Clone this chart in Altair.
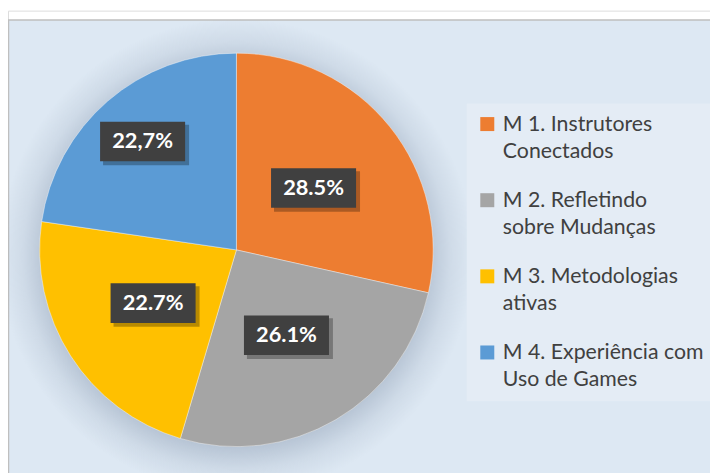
import altair as alt
import pandas as pd

categories = [
    "M 1. Instrutores Conectados",
    "M 2. Refletindo sobre Mudanças",
    "M 3. Metodologias ativas",
    "M 4. Experiência com Uso de Games",
]
values = [28.5, 26.1, 22.7, 22.7]
value_labels = ["28.5%", "26.1%", "22.7%", "22,7%"]
legend_lines = [
    ["M 1. Instrutores", "Conectados"],
    ["M 2. Refletindo", "sobre Mudanças"],
    ["M 3. Metodologias", "ativas"],
    ["M 4. Experiência com", "Uso de Games"],
]
colors = ["#ED7D31", "#A5A5A5", "#FFC000", "#5B9BD5"]

df = pd.DataFrame({"cat": categories, "value": values, "label": value_labels,
                   "order": list(range(len(categories)))})
one = pd.DataFrame({"a": [0]})

CX, CY, R = 231, 242, 199

label_map = "{" + ", ".join(
    "'%s': ['%s', '%s']" % (c, l[0], l[1]) for c, l in zip(categories, legend_lines)
) + "}[datum.label]"

color = alt.Color(
    "cat:N",
    scale=alt.Scale(domain=categories, range=colors),
    legend=alt.Legend(
        title=None, orient="none", legendX=464, legendY=94,
        symbolType="square", symbolSize=200, symbolStrokeWidth=0,
        labelFont="Lato", labelFontSize=21.5, labelColor="#404040",
        labelBaseline="top", labelExpr=label_map, labelLimit=400,
        fillColor="#E4ECF5", padding=10, rowPadding=27, labelOffset=5,
    ),
)

bg = alt.Chart(one).mark_rect(fill="#DDE8F3", stroke="#BFBFBF", strokeWidth=1.5).encode(
    x=alt.value(0.5), x2=alt.value(760), y=alt.value(9.5), y2=alt.value(520)
)

shadow = alt.Chart(one).mark_arc(
    theta=0, theta2=6.2832, outerRadius=240, x=CX, y=CY + 6,
    fill=alt.Gradient(
        gradient="radial",
        stops=[
            alt.GradientStop(offset=0, color="rgba(80,100,130,0.28)"),
            alt.GradientStop(offset=0.8, color="rgba(80,100,130,0.28)"),
            alt.GradientStop(offset=0.9, color="rgba(80,100,130,0.10)"),
            alt.GradientStop(offset=1, color="rgba(80,100,130,0)"),
        ],
        x1=0.5, y1=0.5, x2=0.5, y2=0.5, r1=0, r2=0.5,
    ),
).encode(opacity=alt.value(1))

pie = alt.Chart(df).mark_arc(outerRadius=R, x=CX, y=CY, stroke="white", strokeWidth=0.4).encode(
    theta=alt.Theta("value:Q", stack=True),
    order=alt.Order("order:Q"),
    color=color,
)

lab = alt.Chart(df).transform_joinaggregate(total="sum(value)").transform_window(
    cum="sum(value)", sort=[alt.SortField("order")], frame=[None, 0]
).transform_calculate(
    ang="(datum.cum - datum.value / 2) / datum.total * 2 * PI",
    rr="datum.order == 3 ? 145 : 100",
).transform_calculate(
    lx=f"{CX} + datum.rr * sin(datum.ang)",
    ly=f"{CY} - datum.rr * cos(datum.ang)",
).transform_calculate(
    bx1="datum.lx - 43", bx2="datum.lx + 43",
    by1="datum.ly - 20", by2="datum.ly + 20",
    sx1="datum.lx - 40", sx2="datum.lx + 47",
    sy1="datum.ly - 17", sy2="datum.ly + 24",
)

box_shadow = lab.mark_rect(fill="#000000", opacity=0.28).encode(
    x=alt.X("sx1:Q", scale=None, axis=None), x2="sx2:Q",
    y=alt.Y("sy1:Q", scale=None, axis=None), y2="sy2:Q",
)
box = lab.mark_rect(fill="#404040").encode(
    x=alt.X("bx1:Q", scale=None, axis=None), x2="bx2:Q",
    y=alt.Y("by1:Q", scale=None, axis=None), y2="by2:Q",
)
text = lab.mark_text(font="Lato", fontSize=22, fontWeight="bold", color="white").encode(
    x=alt.X("lx:Q", scale=None, axis=None),
    y=alt.Y("ly:Q", scale=None, axis=None),
    text="label:N",
)

chart = alt.layer(bg, shadow, pie, box_shadow, box, text).properties(
    width=710, height=465, padding=0, autosize="none", background="white"
).configure_view(stroke=None).configure(
    style={"guide-label": {"lineHeight": 27, "dy": -10}}
)

chart.save("out.html", embed_options={"renderer": "svg", "actions": False})
